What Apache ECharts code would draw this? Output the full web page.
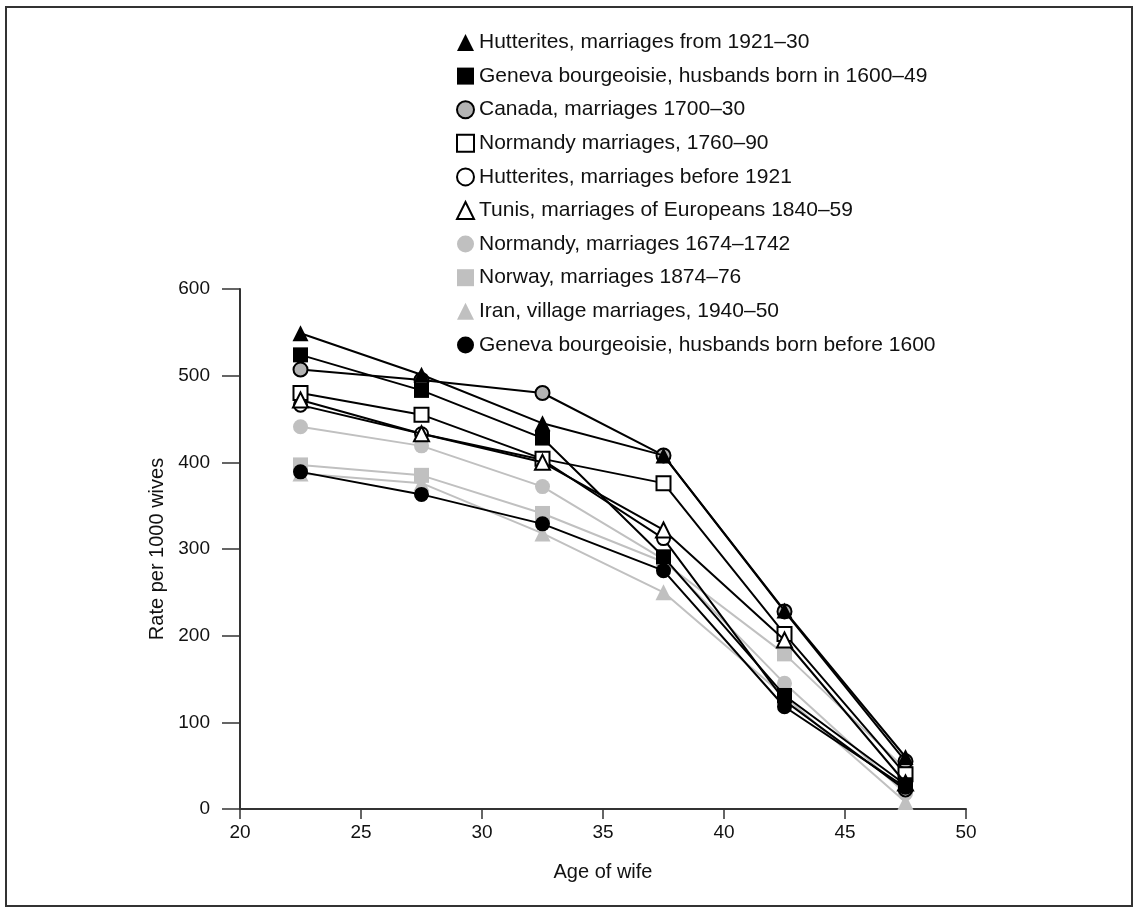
<!DOCTYPE html>
<html>
<head>
<meta charset="utf-8">
<script src="https://cdn.jsdelivr.net/npm/echarts@6/dist/echarts.min.js"></script>
<style>
html,body{margin:0;padding:0;background:#fff;}
#chart{width:1140px;height:915px;}
</style>
</head>
<body>
<div id="chart"></div>
<script>
// Age groups (midpoints of 20-24, 25-29, ...)
const ages = [22.5, 27.5, 32.5, 37.5, 42.5, 47.5];
const xTicks = [20, 25, 30, 35, 40, 45, 50];
const yTicks = [0, 100, 200, 300, 400, 500, 600];

const names = [
  'Hutterites, marriages from 1921\u201330',
  'Geneva bourgeoisie, husbands born in 1600\u201349',
  'Canada, marriages 1700\u201330',
  'Normandy marriages, 1760\u201390',
  'Hutterites, marriages before 1921',
  'Tunis, marriages of Europeans 1840\u201359',
  'Normandy, marriages 1674\u20131742',
  'Norway, marriages 1874\u201376',
  'Iran, village marriages, 1940\u201350',
  'Geneva bourgeoisie, husbands born before 1600'
];

const hutterites1921 = [549, 501, 445, 408, 229, 60];
const geneva1600 = [524, 483, 428, 291, 131, 28];
const canada = [507, 495, 480, 408, 228, 55];
const normandy1760 = [480, 455, 404, 376, 202, 40];
const hutteritesBefore = [466, 433, 403, 312, 125, 22];
const tunis = [472, 433, 400, 322, 195, 30];
const normandy1674 = [441, 419, 372, 288, 145, 18];
const norway = [397, 385, 341, 285, 179, 46];
const iran = [387, 376, 318, 250, 130, 8];
const genevaBefore = [389, 363, 329, 275, 118, 25];

const BLACK = '#000000';
const GRAY = '#c0c0c0';
const MID = '#b3b3b3';

const styles = [
  {values: hutterites1921, symbol: 'triangle', size: 16, fill: BLACK, border: BLACK, line: BLACK, z: 9},
  {values: geneva1600, symbol: 'rect', size: 15, fill: BLACK, border: BLACK, line: BLACK, z: 8},
  {values: canada, symbol: 'circle', size: 14, fill: MID, border: BLACK, line: BLACK, z: 3},
  {values: normandy1760, symbol: 'rect', size: 14, fill: '#ffffff', border: BLACK, line: BLACK, z: 5},
  {values: hutteritesBefore, symbol: 'circle', size: 13, fill: '#ffffff', border: BLACK, line: BLACK, z: 4},
  {values: tunis, symbol: 'triangle', size: 15, fill: '#ffffff', border: BLACK, line: BLACK, z: 6},
  {values: normandy1674, symbol: 'circle', size: 15, fill: GRAY, border: GRAY, line: GRAY, z: 2},
  {values: norway, symbol: 'rect', size: 15, fill: GRAY, border: GRAY, line: GRAY, z: 2},
  {values: iran, symbol: 'triangle', size: 16, fill: GRAY, border: GRAY, line: GRAY, z: 2},
  {values: genevaBefore, symbol: 'circle', size: 15, fill: BLACK, border: BLACK, line: BLACK, z: 7}
];

const series = names.map((n, i) => {
  const s = styles[i];
  return {
    name: n,
    type: 'line',
    data: ages.map((a, j) => [a, s.values[j]]),
    symbol: s.symbol,
    symbolSize: s.size,
    showAllSymbol: true,
    lineStyle: {color: s.line, width: 2},
    itemStyle: {color: s.fill, borderColor: s.border, borderWidth: (s.fill === s.border) ? 0 : 2},
    emphasis: {disabled: true},
    animation: false,
    z: s.z
  };
});

const chart = echarts.init(document.getElementById('chart'), null, {renderer: 'canvas'});
const FONT = '"Liberation Sans", Arial, Helvetica, sans-serif';

chart.setOption({
  backgroundColor: '#ffffff',
  animation: false,
  textStyle: {fontFamily: FONT},
  graphic: [{
    type: 'rect',
    shape: {x: 6, y: 7, width: 1126, height: 899},
    style: {fill: 'none', stroke: '#333333', lineWidth: 2},
    silent: true,
    z: 0
  }],
  legend: {
    orient: 'vertical',
    left: 451,
    top: 27,
    itemWidth: 17,
    itemHeight: 17,
    itemGap: 12.6,
    selectedMode: false,
    data: names.map((n, i) => ({name: n, icon: styles[i].symbol})),
    textStyle: {fontSize: 21, color: '#111111', fontFamily: FONT}
  },
  grid: {left: 240, right: 174, top: 289, bottom: 106, containLabel: false},
  xAxis: {
    type: 'value',
    min: 20,
    max: 50,
    interval: 5,
    name: 'Age of wife',
    nameLocation: 'middle',
    nameGap: 53,
    nameTextStyle: {fontSize: 20, color: '#111111', fontFamily: FONT},
    axisLine: {show: true, lineStyle: {color: '#333333', width: 2}},
    axisTick: {show: true, inside: false, length: 10, lineStyle: {color: '#333333', width: 1.5}},
    axisLabel: {fontSize: 19, color: '#111111', margin: 14, fontFamily: FONT,
      formatter: v => xTicks.includes(v) ? String(v) : ''},
    splitLine: {show: false}
  },
  yAxis: {
    type: 'value',
    min: 0,
    max: 600,
    interval: 100,
    name: 'Rate per 1000 wives',
    nameLocation: 'middle',
    nameGap: 73,
    nameTextStyle: {fontSize: 20, color: '#111111', fontFamily: FONT},
    axisLine: {show: true, lineStyle: {color: '#333333', width: 2}},
    axisTick: {show: true, inside: false, length: 18, lineStyle: {color: '#333333', width: 1.5}},
    axisLabel: {fontSize: 19, color: '#111111', margin: 30, fontFamily: FONT,
      formatter: v => yTicks.includes(v) ? String(v) : ''},
    splitLine: {show: false}
  },
  series: series
});
</script>
</body>
</html>
